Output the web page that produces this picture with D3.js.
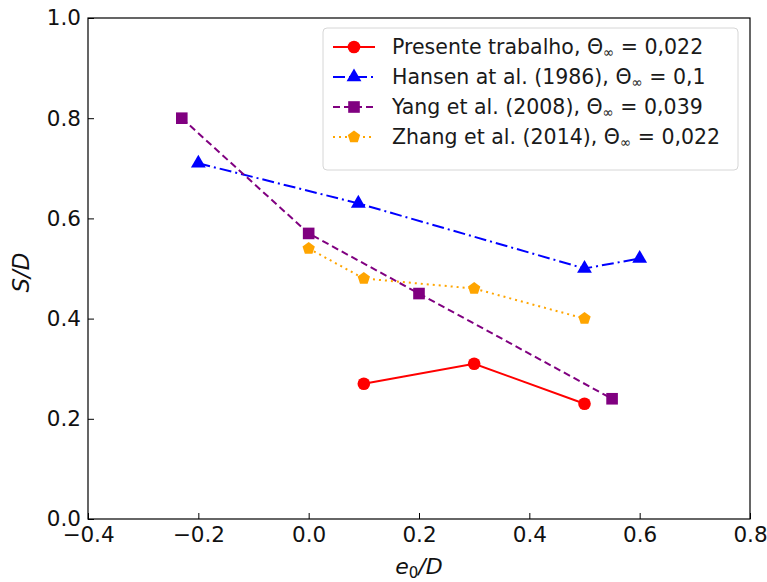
<!DOCTYPE html>
<html>
<head>
<meta charset="utf-8">
<script src="https://cdn.jsdelivr.net/npm/d3@7"></script>
<style>
  body { margin: 0; background: #fff; }
  svg { display: block; font-family: "DejaVu Sans", sans-serif; }
</style>
</head>
<body>
<svg id="chart" width="767" height="582"></svg>
<script>
// Series data: x = e0/D, y = S/D
const presenteX = [0.1, 0.3, 0.5];
const presenteY = [0.27, 0.31, 0.23];
const hansenX = [-0.2, 0.09, 0.5, 0.6];
const hansenY = [0.71, 0.63, 0.50, 0.52];
const yangX = [-0.23, 0.0, 0.2, 0.55];
const yangY = [0.80, 0.57, 0.45, 0.24];
const zhangX = [0.0, 0.1, 0.3, 0.5];
const zhangY = [0.54, 0.48, 0.46, 0.40];

const xTicks = [-0.4, -0.2, 0.0, 0.2, 0.4, 0.6, 0.8];
const yTicks = [0.0, 0.2, 0.4, 0.6, 0.8, 1.0];

// Legend labels: [prefix, value] around the "Θ∞ = " part
const seriesNames = [
  ["Presente trabalho, ", "0,022"],
  ["Hansen at al. (1986), ", "0,1"],
  ["Yang et al. (2008), ", "0,039"],
  ["Zhang et al. (2014), ", "0,022"]
];

const series = [
  { xs: presenteX, ys: presenteY, name: seriesNames[0], color: "#ff0000", dash: null, symbol: d3.symbolCircle, size: 125 },
  { xs: hansenX, ys: hansenY, name: seriesNames[1], color: "#0000ff", dash: "12,4,2,4", symbol: d3.symbolTriangle, size: 95 },
  { xs: yangX, ys: yangY, name: seriesNames[2], color: "#800080", dash: "7,4", symbol: d3.symbolSquare, size: 135 },
  { xs: zhangX, ys: zhangY, name: seriesNames[3], color: "#ffa500", dash: "2,4", symbol: "pentagon", size: 100 }
];

const svg = d3.select("#chart");
const m = { left: 88, right: 750, top: 18, bottom: 519 };

const x = d3.scaleLinear().domain([-0.4, 0.8]).range([m.left, m.right]);
const y = d3.scaleLinear().domain([0, 1]).range([m.bottom, m.top]);

// Regular pentagon path, point up, sized to roughly match d3 symbol areas
function pentagonPath(size) {
  const r = Math.sqrt(size / 2.378);
  const pts = d3.range(5).map(i => {
    const a = -Math.PI / 2 + i * 2 * Math.PI / 5;
    return [r * Math.cos(a), r * Math.sin(a)];
  });
  return "M" + pts.map(p => p.join(",")).join("L") + "Z";
}
function markerPath(s) {
  if (s.symbol === "pentagon") return pentagonPath(s.size);
  return d3.symbol().type(s.symbol).size(s.size)();
}

// Axes with inward ticks
const xAxis = d3.axisBottom(x).tickValues(xTicks).tickSizeInner(-6).tickSizeOuter(0).tickPadding(8)
  .tickFormat(d => d3.format(".1f")(d).replace("-", "\u2212"));
const yAxis = d3.axisLeft(y).tickValues(yTicks).tickSizeInner(-6).tickSizeOuter(0).tickPadding(7)
  .tickFormat(d3.format(".1f"));

const gx = svg.append("g").attr("transform", `translate(0,${m.bottom})`).call(xAxis);
const gy = svg.append("g").attr("transform", `translate(${m.left},0)`).call(yAxis);
[gx, gy].forEach(g => {
  g.select(".domain").remove();
  g.selectAll(".tick line").attr("stroke", "#000").attr("stroke-width", 1);
  g.selectAll(".tick text").attr("font-size", 21.5).attr("fill", "#111")
    .attr("font-family", "DejaVu Sans, sans-serif");
});

// Frame
svg.append("rect")
  .attr("x", m.left).attr("y", m.top)
  .attr("width", m.right - m.left).attr("height", m.bottom - m.top)
  .attr("fill", "none").attr("stroke", "#000").attr("stroke-width", 1.2);

// Lines and markers
const line = d3.line().x(d => x(d[0])).y(d => y(d[1]));
series.forEach(s => {
  const pts = s.xs.map((v, i) => [v, s.ys[i]]);
  svg.append("path")
    .attr("d", line(pts))
    .attr("fill", "none")
    .attr("stroke", s.color)
    .attr("stroke-width", 2)
    .attr("stroke-dasharray", s.dash);
  svg.append("g").selectAll("path").data(pts).join("path")
    .attr("transform", d => `translate(${x(d[0])},${y(d[1])})`)
    .attr("d", markerPath(s))
    .attr("fill", s.color);
});

// Axis titles
const xl = svg.append("text")
  .attr("x", (m.left + m.right) / 2).attr("y", 574)
  .attr("text-anchor", "middle").attr("font-size", 22).attr("font-style", "italic").attr("fill", "#111");
xl.append("tspan").text("e");
xl.append("tspan").attr("font-style", "normal").attr("font-size", 15).attr("dy", 4).text("0");
xl.append("tspan").attr("dy", -4).text("/D");

svg.append("text")
  .attr("transform", `translate(29,${(m.top + m.bottom) / 2 + 4}) rotate(-90)`)
  .attr("text-anchor", "middle").attr("font-size", 23).attr("font-style", "italic").attr("fill", "#111")
  .text("S/D");

// Legend
const lg = svg.append("g").attr("transform", "translate(323,28)");
lg.append("rect")
  .attr("width", 415).attr("height", 142).attr("rx", 4)
  .attr("fill", "#fff").attr("fill-opacity", 0.85)
  .attr("stroke", "#d6d6d6").attr("stroke-width", 1);
series.forEach((s, i) => {
  const cy = 19 + i * 30;
  lg.append("line")
    .attr("x1", 10).attr("x2", 52).attr("y1", cy).attr("y2", cy)
    .attr("stroke", s.color).attr("stroke-width", 2)
    .attr("stroke-dasharray", s.dash);
  lg.append("path")
    .attr("transform", `translate(31,${cy})`)
    .attr("d", markerPath(s))
    .attr("fill", s.color);
  const t = lg.append("text")
    .attr("x", 69).attr("y", cy + 7)
    .attr("font-size", 20.5).attr("fill", "#1a1a1a");
  t.append("tspan").text(s.name[0] + "\u0398");
  t.append("tspan").attr("font-size", 13.5).attr("dy", 3).text("\u221E");
  t.append("tspan").attr("dy", -3).text(" = " + s.name[1]);
});
</script>
</body>
</html>
